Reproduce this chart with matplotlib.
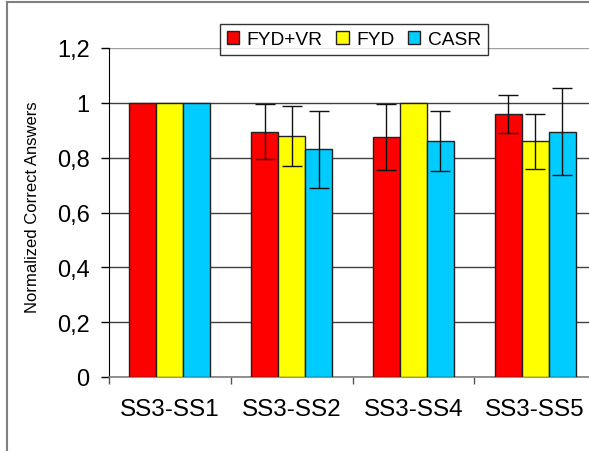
import numpy as np
import matplotlib
matplotlib.use("Agg")
import matplotlib.pyplot as plt
from matplotlib.patches import Patch
from matplotlib.lines import Line2D

plt.rcParams['font.family'] = ['Liberation Sans', 'DejaVu Sans']

categories = ["SS3-SS1", "SS3-SS2", "SS3-SS4", "SS3-SS5"]
series_names = ["FYD+VR", "FYD", "CASR"]
fydvr = [1.0, 0.895, 0.875, 0.96]
fydvr_err = [0.0, 0.10, 0.12, 0.07]
fyd = [1.0, 0.878, 1.0, 0.86]
fyd_err = [0.0, 0.11, 0.0, 0.10]
casr = [1.0, 0.83, 0.86, 0.895]
casr_err = [0.0, 0.14, 0.11, 0.16]
yticks = [0, 0.2, 0.4, 0.6, 0.8, 1.0, 1.2]
ytick_labels = ["0", "0,2", "0,4", "0,6", "0,8", "1", "1,2"]
colors = ["#FF0000", "#FFFF00", "#00CCFF"]

W, H = 589, 452
fig = plt.figure(figsize=(W / 100, H / 100), dpi=100)
ax = fig.add_axes([109 / W, 1 - 378 / H, 487 / W, 329 / H])

x = np.arange(len(categories))
bw = 0.222
values = [fydvr, fyd, casr]
errs = [fydvr_err, fyd_err, casr_err]
for i, (v, e, c) in enumerate(zip(values, errs, colors)):
    pos = x + (i - 1) * bw
    ax.bar(pos, v, width=bw, color=c, edgecolor="#222222", linewidth=1.0, zorder=3)
    e = np.asarray(e)
    m = e > 0
    ax.errorbar(pos[m], np.asarray(v)[m], yerr=e[m], fmt="none", ecolor="#111111",
                elinewidth=1.0, capsize=7, capthick=1.0, zorder=4)

ax.set_xlim(-0.5, 3.5)
ax.set_ylim(0, 1.2)
ax.set_yticks(yticks)
ax.set_yticklabels(ytick_labels, fontsize=17)
ax.yaxis.grid(True, color="#404040", linewidth=1.0, zorder=0)
ax.get_ygridlines()[-1].set_color("#a0a0a0")
ax.set_axisbelow(True)

ax.set_xticks(np.arange(-0.5, 3.6, 1.0))
ax.set_xticklabels([])
ax.set_xticks(x, minor=True)
ax.set_xticklabels(categories, minor=True, fontsize=17.5)
ax.tick_params(axis="x", which="minor", length=0, pad=15)
ax.tick_params(axis="x", which="major", length=5, width=1, color="#555555")
ax.tick_params(axis="y", length=6, width=1, pad=8)

for s in ["top", "right"]:
    ax.spines[s].set_visible(False)
ax.spines["left"].set_color("black")
ax.spines["bottom"].set_color("#808080")
ax.spines["bottom"].set_linewidth(1.2)

ax.set_ylabel("Normalized Correct Answers", fontsize=12)
ax.yaxis.set_label_coords(-0.142, 0.52)

handles = [Patch(facecolor=c, edgecolor="#222222", linewidth=1.0) for c in colors]
leg = fig.legend(handles, series_names, loc="upper center", bbox_to_anchor=(354 / W, 1 - 25 / H),
                 ncol=3, fontsize=13.8, frameon=True, fancybox=False, shadow=False,
                 handlelength=0.65, handleheight=0.65, handletextpad=0.4, columnspacing=0.7,
                 borderpad=0.35, borderaxespad=0)
leg.get_frame().set_edgecolor("black")
leg.get_frame().set_linewidth(1.0)

fig.add_artist(Line2D([7 / W, 1.0], [1 - 3 / H, 1 - 3 / H], color="#808080", linewidth=1.5,
                      transform=fig.transFigure))
fig.add_artist(Line2D([7 / W, 7 / W], [0, 1 - 3 / H], color="#808080", linewidth=1.5,
                      transform=fig.transFigure))

fig.savefig("out.png", dpi=100)
